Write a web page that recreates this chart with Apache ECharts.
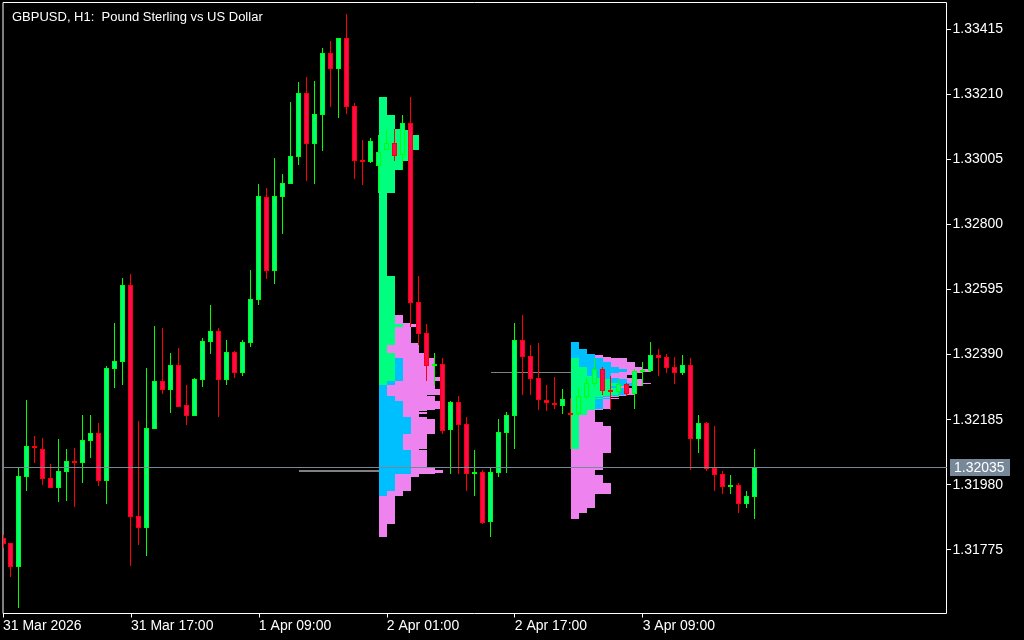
<!DOCTYPE html>
<html><head><meta charset="utf-8">
<script src="https://cdn.jsdelivr.net/npm/echarts@6/dist/echarts.min.js"></script>
<style>html,body{margin:0;padding:0;background:#000;}#c{width:1024px;height:640px;}</style>
</head><body><div id="c"></div>
<script>
const chartTitle = 'GBPUSD, H1:  Pound Sterling vs US Dollar';
// H1 bars, bar 0 = 31 Mar 01:00
const opens = [1.31812,1.31796,1.31721,1.32004,1.32102,1.32092,1.32001,1.31970,1.32020,1.32055,
1.32048,1.32118,1.32143,1.31992,1.32345,1.32367,1.32609,1.31881,1.31843,1.32155,
1.32307,1.32278,1.32357,1.32231,1.32196,1.32310,1.32430,1.32464,1.32310,1.32398,
1.32332,1.32427,1.32562,1.32887,1.32654,1.32887,1.32928,1.33013,1.33215,1.33054,
1.33145,1.33341,1.33290,1.33388,1.33174,1.33003,1.32997,1.32984,1.33035,1.33057,
1.33019,1.33120,1.32556,1.32458,1.32354,1.32360,1.32152,1.32241,1.32171,1.32014,
1.32020,1.31862,1.32017,1.32143,1.32196,1.32436,1.32386,1.32316,1.32247,1.32237,
1.32228,1.32206,1.32203,1.32256,1.32297,1.32345,1.32278,1.32272,1.32297,1.32266,
1.32335,1.32338,1.32389,1.32382,1.32351,1.32332,1.32357,1.32124,1.32174,1.32033,
1.32014,1.31973,1.31979,1.31919,1.31941];
const highs = [1.31821,1.31796,1.32033,1.32247,1.32133,1.32127,1.32045,1.32124,1.32092,1.32096,
1.32200,1.32200,1.32174,1.32354,1.32490,1.32631,1.32644,1.32181,1.32348,1.32480,
1.32474,1.32395,1.32411,1.32294,1.32316,1.32442,1.32546,1.32474,1.32436,1.32401,
1.32436,1.32657,1.32928,1.32915,1.33010,1.32959,1.33186,1.33249,1.33265,1.33252,
1.33356,1.33379,1.33388,1.33464,1.33183,1.33066,1.33073,1.33082,1.33098,1.33101,
1.33145,1.33202,1.32638,1.32487,1.32395,1.32379,1.32244,1.32260,1.32193,1.32089,
1.32026,1.32036,1.32187,1.32209,1.32490,1.32515,1.32420,1.32427,1.32294,1.32319,
1.32282,1.32253,1.32285,1.32316,1.32379,1.32351,1.32323,1.32313,1.32300,1.32345,
1.32367,1.32430,1.32408,1.32392,1.32382,1.32389,1.32379,1.32200,1.32178,1.32165,
1.32023,1.32011,1.31985,1.31960,1.32092];
const lows = [1.31780,1.31689,1.31591,1.31960,1.32048,1.31979,1.31970,1.31925,1.31929,1.31910,
1.31985,1.32064,1.31976,1.31919,1.32285,1.32294,1.31724,1.31790,1.31755,1.32155,
1.32266,1.32206,1.32225,1.32168,1.32196,1.32288,1.32392,1.32193,1.32294,1.32316,
1.32323,1.32414,1.32546,1.32628,1.32613,1.32770,1.32928,1.32988,1.32937,1.32928,
1.33032,1.33170,1.33136,1.33148,1.32944,1.32925,1.32994,1.32899,1.33035,1.33000,
1.32972,1.32477,1.32420,1.32307,1.32294,1.32140,1.32014,1.32014,1.31960,1.31944,
1.31856,1.31815,1.32004,1.32017,1.32092,1.32263,1.32263,1.32215,1.32212,1.32219,
1.32203,1.32092,1.32200,1.32250,1.32291,1.32263,1.32215,1.32256,1.32260,1.32219,
1.32291,1.32335,1.32323,1.32332,1.32297,1.32326,1.32026,1.32080,1.32023,1.31960,
1.31951,1.31951,1.31891,1.31907,1.31872];
const closes = [1.31793,1.31721,1.32007,1.32102,1.32096,1.31998,1.31970,1.32023,1.32055,1.32048,
1.32121,1.32143,1.31992,1.32348,1.32370,1.32609,1.31878,1.31843,1.32159,1.32307,
1.32278,1.32357,1.32225,1.32196,1.32313,1.32433,1.32464,1.32310,1.32398,1.32332,
1.32430,1.32565,1.32890,1.32654,1.32890,1.32931,1.33016,1.33215,1.33054,1.33148,
1.33341,1.33290,1.33388,1.33170,1.33000,1.32997,1.33063,1.33029,1.33057,1.33016,
1.33120,1.32553,1.32455,1.32354,1.32360,1.32149,1.32241,1.32168,1.32014,1.32020,
1.31859,1.32020,1.32146,1.32200,1.32436,1.32382,1.32313,1.32247,1.32237,1.32231,
1.32250,1.32200,1.32260,1.32300,1.32345,1.32275,1.32272,1.32297,1.32266,1.32338,
1.32341,1.32389,1.32379,1.32348,1.32332,1.32357,1.32124,1.32174,1.32029,1.32011,
1.31973,1.31979,1.31919,1.31944,1.32035];

const xTickIndex = [0,16,32,48,64,80];
const xTickLabels = ['31 Mar 2026','31 Mar 17:00','1 Apr 09:00','2 Apr 01:00','2 Apr 17:00','3 Apr 09:00'];
const yTicks = [1.33415,1.33210,1.33005,1.32800,1.32595,1.32390,1.32185,1.31980,1.31775];

// daily market profiles (TPO), built from the bars of each day
const profileStartBars = [47, 71];
const sessionLengths = [8, 5, 11];   // bars per colour block
const pocFromBars = [37, 61];
const pocToBars = [47, 71];
const pocPrices = [1.32022, 1.32335];
const currentPrice = 1.32035;

// ---- styles ----
const profileColors = ['#00ff7f', '#00bfff', '#ee82ee'];
const font = 'Liberation Sans, Arial, sans-serif';

const candleData = opens.map((o, i) => [i, o, closes[i], lows[i], highs[i]]);

const profileRects = [];
profileStartBars.forEach(start => {
  const total = sessionLengths.reduce((a, b) => a + b, 0);
  const bars = [];
  for (let k = 0; k < total; k++) bars.push(start + k);
  const groupOf = k => (k < sessionLengths[0] ? 0 : (k < sessionLengths[0] + sessionLengths[1] ? 1 : 2));
  const bps = Array.from(new Set(bars.flatMap(b => [highs[b], lows[b]]))).sort((a, b) => a - b);
  for (let j = 0; j < bps.length - 1; j++) {
    const lo = bps[j], hi = bps[j + 1], mid = (lo + hi) / 2;
    const cnt = [0, 0, 0];
    bars.forEach((b, k) => { if (lows[b] <= mid && highs[b] >= mid) cnt[groupOf(k)]++; });
    let x = start;
    for (let g = 0; g < 3; g++) {
      if (cnt[g] > 0) { profileRects.push([x, x + cnt[g], hi, lo, g]); x += cnt[g]; }
    }
  }
});

const pocData = pocPrices.map((p, i) => [pocFromBars[i], pocToBars[i], p, i]);

function renderCandle(params, api) {
  const i = api.value(0), o = api.value(1), c = api.value(2), l = api.value(3), h = api.value(4);
  const pO = api.coord([i, o]), pC = api.coord([i, c]), pL = api.coord([i, l]), pH = api.coord([i, h]);
  const x = Math.floor(pO[0]);
  const up = c >= o;
  const edge = up ? '#00ff00' : '#ff0000';
  const fill = up ? '#00ff7f' : '#ff0a50';
  let yTop = Math.round(Math.min(pO[1], pC[1])), yBot = Math.round(Math.max(pO[1], pC[1]));
  if (yBot - yTop < 1) yBot = yTop + 1;
  const yH = Math.round(pH[1]), yL = Math.round(pL[1]);
  const children = [
    {type: 'rect', shape: {x: x, y: yH, width: 1, height: Math.max(1, yL - yH)}, style: {fill: edge}},
    {type: 'rect', shape: {x: x - 2, y: yTop, width: 5, height: yBot - yTop}, style: {fill: edge}}
  ];
  if (yBot - yTop > 2) children.push({type: 'rect', shape: {x: x - 1, y: yTop + 1, width: 3, height: yBot - yTop - 2}, style: {fill: fill}});
  return {type: 'group', children: children};
}

function renderProfile(params, api) {
  const a = api.coord([api.value(0), api.value(2)]);
  const b = api.coord([api.value(1), api.value(3)]);
  const x0 = Math.round(a[0]), x1 = Math.round(b[0]);
  const y0 = Math.round(a[1]), y1 = Math.round(b[1]);
  return {type: 'rect', shape: {x: x0, y: y0, width: x1 - x0, height: Math.max(1, y1 - y0)},
          style: {fill: profileColors[api.value(4)]}};
}

function renderPoc(params, api) {
  const a = api.coord([api.value(0), api.value(2)]);
  const b = api.coord([api.value(1), api.value(2)]);
  const w = api.value(3) === 0 ? 2 : 1;
  const y = Math.round(a[1]);
  return {type: 'rect', shape: {x: Math.round(a[0]), y: y - (w === 2 ? 1 : 0), width: Math.round(b[0]) - Math.round(a[0]), height: w},
          style: {fill: '#808080'}};
}

function renderYTick(params, api) {
  const cs = params.coordSys;
  const p = api.coord([0, api.value(0)]);
  return {type: 'rect', shape: {x: Math.round(cs.x + cs.width), y: Math.floor(p[1]), width: 4, height: 1}, style: {fill: '#ffffff'}};
}

function renderPrice(params, api) {
  const cs = params.coordSys;
  const p = api.coord([0, api.value(0)]);
  const y = Math.floor(p[1]);
  const xr = Math.round(cs.x + cs.width);
  return {type: 'group', children: [
    {type: 'rect', shape: {x: Math.round(cs.x), y: y, width: xr - Math.round(cs.x), height: 1}, style: {fill: '#778899'}},
    {type: 'rect', shape: {x: xr + 3, y: y - 8, width: 60, height: 17}, style: {fill: '#778899'}},
    {type: 'text', style: {x: xr + 7, y: y + 1, text: api.value(0).toFixed(5), fill: '#ffffff', font: '14px ' + font, verticalAlign: 'middle', align: 'left'}}
  ]};
}

const chart = echarts.init(document.getElementById('c'), null, {renderer: 'canvas', width: 1024, height: 640});
chart.setOption({
  animation: false,
  backgroundColor: '#000000',
  title: {text: chartTitle, left: 7, top: 6, textStyle: {color: '#ffffff', fontSize: 13, fontWeight: 'normal', fontFamily: font}},
  grid: {left: 2.5, right: 77.5, top: 2.5, bottom: 26.5, show: true, borderColor: '#ffffff', borderWidth: 1, backgroundColor: '#000000', containLabel: false},
  xAxis: {
    type: 'value', min: 0, max: 118, position: 'bottom',
    axisLine: {show: false},
    splitLine: {show: false},
    axisTick: {show: true, customValues: xTickIndex, length: 4, lineStyle: {color: '#ffffff'}},
    axisLabel: {show: true, customValues: xTickIndex, align: 'left', margin: 6, color: '#ffffff', fontSize: 14, fontFamily: font,
      formatter: v => { const k = xTickIndex.indexOf(Math.round(v)); return k >= 0 ? xTickLabels[k] : ''; }}
  },
  yAxis: {
    type: 'value', min: 1.31574, max: 1.33500, position: 'right', scale: true,
    axisLine: {show: false},
    splitLine: {show: false},
    axisTick: {show: false},
    axisLabel: {show: true, customValues: yTicks, align: 'left', margin: 6, color: '#ffffff', fontSize: 14, fontFamily: font,
      formatter: v => v.toFixed(5)}
  },
  series: [
    {type: 'custom', name: 'profile', renderItem: renderProfile, data: profileRects, clip: true, z: 1, silent: true},
    {type: 'custom', name: 'poc', renderItem: renderPoc, data: pocData, clip: true, z: 2, silent: true},
    {type: 'custom', name: 'GBPUSD', renderItem: renderCandle, data: candleData, clip: true, z: 3, silent: true},
    {type: 'custom', name: 'yticks', renderItem: renderYTick, data: yTicks.map(v => [v]), clip: false, z: 4, silent: true},
    {type: 'custom', name: 'price', renderItem: renderPrice, data: [[currentPrice]], clip: false, z: 5, silent: true}
  ]
});
</script></body></html>
